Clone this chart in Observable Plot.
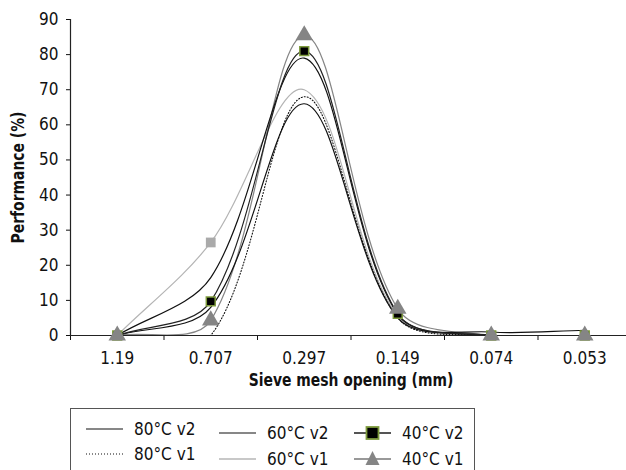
<!DOCTYPE html>
<html><head><meta charset="utf-8">
<script src="https://cdn.jsdelivr.net/npm/d3@7"></script>
<script src="https://cdn.jsdelivr.net/npm/@observablehq/plot@0.6"></script>
<style>
body{margin:0;background:#fff;font-family:"Liberation Sans Narrow","DejaVu Sans Condensed","Arial Narrow","Liberation Sans",sans-serif;}
#chart{position:absolute;left:0;top:0;}
#legend{position:absolute;left:70px;top:408px;width:405px;height:80px;border:1px solid #555;box-sizing:border-box;background:#fff;}
.item{position:absolute;height:24px;display:flex;align-items:center;font-size:17px;color:#111;white-space:nowrap;}
.item svg{flex:none;}
.item span{margin-left:10px;}
</style>
</head><body>
<div id="chart"></div>
<div id="legend"></div>
<script>
// Data
const sieve = ["1.19", "0.707", "0.297", "0.149", "0.074", "0.053"];
const t80v2 = [0, 8, 66, 5, 1, 1.5];
const t80v1 = [0, 0, 68, 5, 0, 0];
const t60v2 = [0, 16.5, 79, 6, 0, 0];
const t60v1 = [0, 26.5, 70, 5.5, 0, 0];
const t40v2 = [0, 9.7, 81, 6.2, 0, 0];
const t40v1 = [0, 4.3, 85.5, 7.6, 0, 0];
const yTicks = [0, 10, 20, 30, 40, 50, 60, 70, 80, 90];
const seriesNames = ["80°C v2", "80°C v1", "60°C v2", "60°C v1", "40°C v2", "40°C v1"];
const yTitle = "Performance (%)";
const xTitle = "Sieve mesh opening (mm)";

const rows = arr => arr.map((v, i) => ({i, v}));
const idx = sieve.map((_, i) => i);
const bounds = d3.range(-0.5, sieve.length, 1);
const FONT = '"Liberation Sans Narrow","DejaVu Sans Condensed","Arial Narrow","Liberation Sans",sans-serif';

// Spreadsheet-style smoothed line (Bezier with distance-weighted tangents)
function SmoothCurve(context) { this._context = context; }
SmoothCurve.prototype = {
  areaStart() {}, areaEnd() {},
  lineStart() { this._pts = []; },
  point(x, y) { this._pts.push([+x, +y]); },
  lineEnd() {
    const p = this._pts, n = p.length, c = this._context;
    if (!n) return;
    c.moveTo(p[0][0], p[0][1]);
    for (let k = 0; k < n - 1; k++) {
      const p0 = p[Math.max(k - 1, 0)], p1 = p[k], p2 = p[k + 1], p3 = p[Math.min(k + 2, n - 1)];
      const d01 = Math.hypot(p1[0] - p0[0], p1[1] - p0[1]);
      const d12 = Math.hypot(p2[0] - p1[0], p2[1] - p1[1]);
      const d23 = Math.hypot(p3[0] - p2[0], p3[1] - p2[1]);
      const f1 = d01 + d12 > 0 ? d12 / (d01 + d12) / 3 : 0;
      const f2 = d12 + d23 > 0 ? d12 / (d12 + d23) / 3 : 0;
      c.bezierCurveTo(
        p1[0] + (p2[0] - p0[0]) * f1, p1[1] + (p2[1] - p0[1]) * f1,
        p2[0] - (p3[0] - p1[0]) * f2, p2[1] - (p3[1] - p1[1]) * f2,
        p2[0], p2[1]);
    }
  }
};
const smooth = context => new SmoothCurve(context);

const lineOpts = (extra) => Object.assign({x: "i", y: "v", curve: smooth, clip: true}, extra);

const chart = Plot.plot({
  width: 626,
  height: 400,
  marginLeft: 70,
  marginRight: -5,
  marginTop: 19,
  marginBottom: 65,
  style: {fontFamily: FONT, fontSize: "17px", color: "#111", background: "#fff"},
  x: {type: "linear", domain: [-0.5, sieve.length - 0.5]},
  y: {domain: [0, 90]},
  marks: [
    Plot.axisY({ticks: yTicks, tickSize: 4, tickPadding: 8, label: null, fontSize: 17}),
    Plot.text([yTitle], {frameAnchor: "left", dx: -52, rotate: -90, fontWeight: "bold", fontSize: 18, textAnchor: "middle"}),
    Plot.axisX({ticks: bounds, tickFormat: () => "", tickSize: 5, label: null}),
    Plot.axisX({ticks: idx, tickFormat: i => sieve[i], tickSize: 0, tickPadding: 16, label: null, fontSize: 17}),
    Plot.text([xTitle], {frameAnchor: "bottom", dy: 50, fontWeight: "bold", fontSize: 18}),
    Plot.line(rows(t60v1), lineOpts({stroke: "#b4b4b4", strokeWidth: 1.2})),
    Plot.line(rows(t40v1), lineOpts({stroke: "#858585", strokeWidth: 1.2})),
    Plot.line(rows(t80v1), lineOpts({stroke: "#111", strokeWidth: 1.1, strokeDasharray: "1,2"})),
    Plot.line(rows(t80v2), lineOpts({stroke: "#111", strokeWidth: 1.2})),
    Plot.line(rows(t60v2), lineOpts({stroke: "#111", strokeWidth: 1.2})),
    Plot.line(rows(t40v2), lineOpts({stroke: "#222", strokeWidth: 1.2})),
    Plot.ruleX([-0.5], {stroke: "#222", strokeWidth: 1.2}),
    Plot.ruleY([0], {stroke: "#222", strokeWidth: 1.2}),
    Plot.dot(rows(t60v1).filter(d => d.i === 1), {x: "i", y: "v", symbol: "square", fill: "#aaaaaa", r: 5.5}),
    Plot.dot(rows(t40v2), {x: "i", y: "v", symbol: "square", fill: "#000", stroke: "#7d9a3c", strokeWidth: 1.5, r: 5}),
    Plot.dot(rows(t40v1), {x: "i", y: "v", symbol: "triangle", fill: "#858585", r: 6.5})
  ]
});
// narrow the bold axis titles to match the condensed face of the original
for (const t of chart.querySelectorAll("text")) {
  if (t.textContent === xTitle || t.textContent === yTitle) {
    const tr = t.getAttribute("transform");
    if (tr) t.setAttribute("transform", tr + " scale(0.86,1)");
  }
}
document.getElementById("chart").appendChild(chart);

// Legend
const legend = document.getElementById("legend");
const pos = [[14, 8], [14, 33], [147, 12], [147, 38], [282, 12], [282, 38]];
const swatch = {
  "80°C v2": '<line x1="1" y1="12" x2="38" y2="12" stroke="#111" stroke-width="1.2"/>',
  "80°C v1": '<line x1="1" y1="12" x2="38" y2="12" stroke="#111" stroke-width="1.1" stroke-dasharray="1,2"/>',
  "60°C v2": '<line x1="1" y1="12" x2="38" y2="12" stroke="#111" stroke-width="1.2"/>',
  "60°C v1": '<line x1="1" y1="12" x2="38" y2="12" stroke="#c8c8c8" stroke-width="2"/>',
  "40°C v2": '<line x1="1" y1="12" x2="38" y2="12" stroke="#555" stroke-width="2"/><rect x="13.5" y="6" width="12" height="12" fill="#000" stroke="#7d9a3c" stroke-width="1.8"/>',
  "40°C v1": '<line x1="1" y1="12" x2="38" y2="12" stroke="#999" stroke-width="2"/><path d="M19.5,4 L26.5,18 L12.5,18 Z" fill="#858585"/>'
};
seriesNames.forEach((name, k) => {
  const el = document.createElement("div");
  el.className = "item";
  el.style.left = pos[k][0] + "px";
  el.style.top = pos[k][1] + "px";
  el.innerHTML = '<svg width="39" height="24">' + swatch[name] + '</svg><span>' + name + '</span>';
  legend.appendChild(el);
});
</script>
</body></html>
